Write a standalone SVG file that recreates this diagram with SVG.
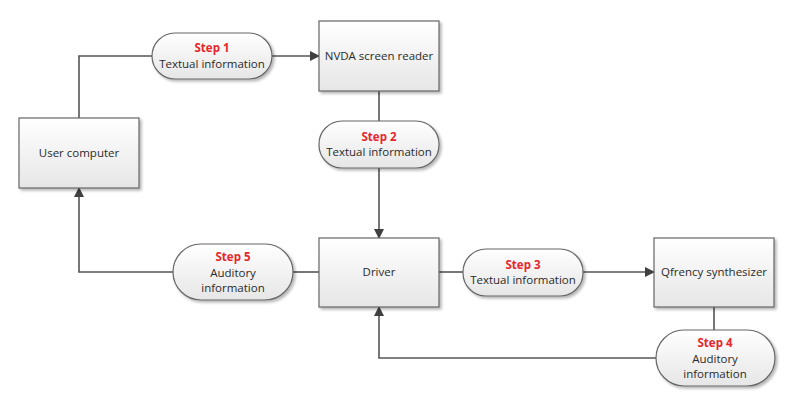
<svg xmlns="http://www.w3.org/2000/svg" width="800" height="405" viewBox="0 0 800 405">
<defs>
<linearGradient id="g" x1="0" y1="0" x2="0" y2="1">
<stop offset="0" stop-color="#ffffff"/>
<stop offset="1" stop-color="#e6e6e6"/>
</linearGradient>
<filter id="sh" x="-10%" y="-10%" width="130%" height="130%">
<feGaussianBlur in="SourceAlpha" stdDeviation="1.5"/>
<feOffset dx="2" dy="2" result="b"/>
<feComponentTransfer><feFuncA type="linear" slope="0.3"/></feComponentTransfer>
<feMerge><feMergeNode/><feMergeNode in="SourceGraphic"/></feMerge>
</filter>
<marker id="arr" markerWidth="10" markerHeight="10" refX="9" refY="5" orient="auto" markerUnits="userSpaceOnUse">
<path d="M0,0 L10,5 L0,10 Z" fill="#404040"/>
</marker>
</defs>
<style>
.box{fill:url(#g);stroke:#666;stroke-width:1.2;filter:url(#sh)}
.pill{fill:url(#g);stroke:#666;stroke-width:1.2;filter:url(#sh)}
.t{font-family:"Open Sans","Liberation Sans",sans-serif;font-size:11.5px;fill:#2a2a2a;text-anchor:middle}
.s{font-family:"Open Sans","Liberation Sans",sans-serif;font-size:11.5px;font-weight:bold;fill:#e8262b;text-anchor:middle}
.c{fill:none;stroke:#555;stroke-width:1.6}
</style>
<rect width="800" height="405" fill="#ffffff"/>
<g id="connectors">
<path class="c" d="M79,118 V56 H152"/>
<path class="c" d="M272,56 H319" marker-end="url(#arr)"/>
<path class="c" d="M379,91 V121"/>
<path class="c" d="M379,168 V238" marker-end="url(#arr)"/>
<path class="c" d="M319,272 H293"/>
<path class="c" d="M173,272 H79 V188" marker-end="url(#arr)"/>
<path class="c" d="M439,272 H463"/>
<path class="c" d="M583,272 H654" marker-end="url(#arr)"/>
<path class="c" d="M714,307 V330"/>
<path class="c" d="M656,358 H379 V307" marker-end="url(#arr)"/>
</g>
<g id="user-computer">
<rect class="box" x="19" y="118" width="120" height="70"/>
<text class="t" x="79" y="157">User computer</text>
</g>
<g id="nvda">
<rect class="box" x="319" y="21" width="120" height="70"/>
<text class="t" x="379" y="60">NVDA screen reader</text>
</g>
<g id="driver">
<rect class="box" x="319" y="238" width="120" height="69"/>
<text class="t" x="379" y="276">Driver</text>
</g>
<g id="qfrency">
<rect class="box" x="654" y="238" width="120" height="69"/>
<text class="t" x="714" y="276">Qfrency synthesizer</text>
</g>
<g id="step1">
<rect class="pill" x="152" y="33" width="120" height="46" rx="23"/>
<text class="s" x="212" y="52">Step 1</text>
<text class="t" x="212" y="68">Textual information</text>
</g>
<g id="step2">
<rect class="pill" x="319" y="121" width="120" height="47" rx="23"/>
<text class="s" x="379" y="141">Step 2</text>
<text class="t" x="379" y="156">Textual information</text>
</g>
<g id="step3">
<rect class="pill" x="463" y="249" width="120" height="47" rx="23"/>
<text class="s" x="523" y="269">Step 3</text>
<text class="t" x="523" y="284">Textual information</text>
</g>
<g id="step4">
<rect class="pill" x="656" y="330" width="119" height="56" rx="28"/>
<text class="s" x="715" y="347">Step 4</text>
<text class="t" x="715" y="363">Auditory</text>
<text class="t" x="715" y="378">information</text>
</g>
<g id="step5">
<rect class="pill" x="173" y="244" width="120" height="56" rx="28"/>
<text class="s" x="233" y="261">Step 5</text>
<text class="t" x="233" y="277">Auditory</text>
<text class="t" x="233" y="292">information</text>
</g>
</svg>
